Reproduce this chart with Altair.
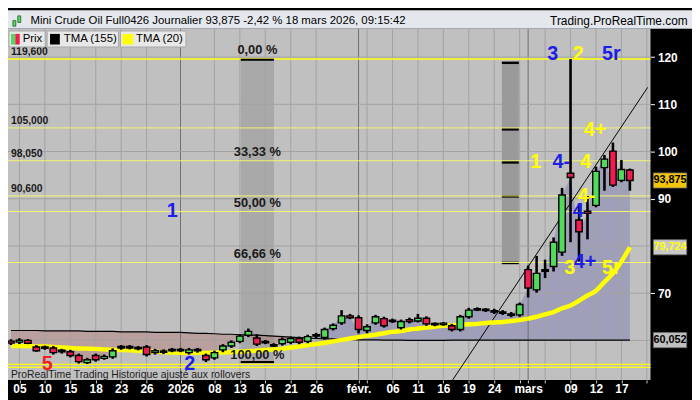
import altair as alt
import pandas as pd

FONT = "Liberation Sans"

# ---------------- data ----------------
opens  = [59.84,59.63,60.0,58.6,58.5,58.4,57.9,57.6,56.8,55.3,
          56.8,56.2,56.5,58.5,58.6,58.3,58.6,57.4,57.7,57.9,
          58.0,57.4,58.1,56.8,56.3,58.0,58.8,59.8,61.1,60.5,
          59.7,59.0,59.3,59.6,60.4,59.8,61.2,60.6,62.5,63.7,
          65.2,64.8,62.1,63.7,64.6,64.2,62.7,64.4,64.1,64.7,
          63.5,63.4,63.1,62.3,65.0,66.5,66.5,66.3,66.0,65.6,
          65.4,75.0,70.7,74.9,75.65,78.7,95.4,85.5,87.35,88.6,
          96.6,100.1,93.9,96.1]
highs  = [60.25,60.45,60.3,59.0,58.9,58.8,58.2,58.0,57.2,56.3,
          57.2,57.0,58.3,59.0,59.0,58.8,59.0,58.2,58.1,58.4,
          58.4,58.4,58.4,57.2,57.8,59.2,60.0,61.3,62.5,61.3,
          60.1,59.4,60.6,60.8,60.8,61.2,61.6,62.7,63.6,66.4,
          65.6,65.3,63.4,65.4,65.0,64.6,64.4,64.8,65.6,65.1,
          63.8,63.9,63.5,65.4,66.9,67.0,66.8,66.7,66.4,66.0,
          68.0,75.85,77.9,77.1,81.8,92.3,119.6,89.0,90.6,96.8,
          99.3,101.9,98.2,96.4]
lows   = [59.02,59.22,59.2,57.6,58.0,57.0,57.2,56.4,55.1,55.0,
          55.5,55.9,56.1,58.0,58.1,57.9,56.6,57.0,57.1,57.5,
          57.5,57.0,57.4,55.4,55.9,57.5,58.4,59.4,60.7,58.8,
          59.2,58.6,58.9,59.2,59.2,59.4,60.5,60.2,62.1,63.3,
          64.5,61.5,61.5,63.3,62.7,63.7,62.3,63.6,63.8,63.1,
          63.0,63.1,61.9,61.9,64.6,66.2,66.0,65.6,65.4,64.9,
          65.0,69.1,70.1,73.2,74.6,77.9,80.8,76.7,81.4,88.2,
          91.7,92.5,93.5,91.7]
closes = [59.43,60.04,59.4,57.8,58.45,57.4,57.6,56.8,55.5,55.9,
          55.9,56.6,57.8,58.6,58.5,58.4,57.0,57.8,57.5,58.0,
          57.9,58.0,57.8,55.9,57.4,58.8,59.6,60.9,61.9,59.2,
          59.6,58.9,60.2,60.4,59.6,60.8,60.9,62.3,63.2,65.2,
          64.8,62.3,62.9,65.0,63.1,64.1,64.0,64.0,64.7,63.5,
          63.4,63.6,62.3,65.0,66.4,66.6,66.4,66.0,65.8,65.3,
          67.6,71.1,74.2,74.7,80.8,90.8,94.5,83.0,86.9,95.8,
          98.4,92.9,96.2,93.875]
tma155 = [62.1,62.1,62.1,62.1,62.0,62.0,62.0,62.0,62.0,61.9,
          61.9,61.9,61.9,61.8,61.8,61.8,61.8,61.7,61.7,61.7,
          61.7,61.6,61.5,61.5,61.4,61.3,61.3,61.2,61.1,61.1,
          61.0,60.9,60.8,60.7,60.6,60.5,60.4,60.3,60.3,60.2,
          60.2,60.1,60.1,60.1,60.05,60.05,60.05,60.0,60.0,60.0,
          60.0,60.0,60.05,60.05,60.05,60.05,60.05,60.05,60.05,60.05,
          60.05,60.05,60.05,60.05,60.05,60.05,60.05,60.05,60.05,60.05,
          60.05,60.05,60.05,60.052]
tma20  = [58.8,58.8,58.8,58.7,58.7,58.6,58.5,58.4,58.3,58.25,
          58.2,58.1,58.0,57.95,57.9,57.8,57.7,57.6,57.5,57.45,
          57.4,57.35,57.35,57.35,57.4,57.45,57.55,57.6,57.7,57.8,
          57.95,58.1,58.2,58.5,58.7,59.0,59.2,59.5,59.8,60.1,
          60.4,60.7,61.0,61.2,61.5,61.8,62.0,62.3,62.5,62.7,
          62.9,63.1,63.2,63.3,63.4,63.5,63.7,63.8,63.9,64.1,
          64.3,64.6,65.0,65.5,66.0,66.8,67.4,68.4,69.5,70.5,
          72.4,74.2,76.7,79.724]
n = len(opens)
assert all(len(a) == n for a in [highs, lows, closes, tma155, tma20])

tick_idx = [1,4,7,10,13,16,20,24,27,30,33,36,41,42,45,48,51,54,57,60,61,63,66,69,72,75]
tick_lab = ['05','10','15','18','23','26','2026','08','13','16','21','26','févr.','','06','11',
            '16','19','24','','mars','','09','12','17','']
month_idx = [20, 41, 61]
y_axis_vals = [70, 90, 100, 110, 120]
grid_y = [60, 70, 80, 90, 100, 110, 120]

strong_levels = [119.6, 54.91, 54.29]
pale_levels = [105.0, 98.05, 90.6, 87.3, 76.5]
level_txt = ['119,600', '105,000', '98,050', '90,600']
level_txt_val = [119.6, 105.0, 98.05, 90.6]

fib_txt = ['0,00 %', '33,33 %', '50,00 %', '66,66 %', '100,00 %']
fib_val = [119.6, 98.05, 87.3, 76.5, 54.95]
fib_band_x = [27.1, 31.03]
fib_band_y = [54.95, 119.6]
fib_under_val = [119.45, 55.4]
box_x = [57.9, 59.9]
box_y = [76.4, 118.8]
box_ticks = [118.8, 104.7, 97.7, 90.5, 76.4]

wave_txt = ['5', '2', '1', '3', '2', '5r', '4+', '1', '4-', '4', '4-', '4', '3', '4+', '5r']
wave_i = [4.27, 21.1, 19.03, 63.9, 66.9, 70.8, 68.9, 61.9, 64.9, 67.8, 67.9, 66.9, 65.9, 67.7, 70.8]
wave_v = [54.9, 54.9, 87.35, 120.62, 120.62, 120.62, 104.6, 97.82, 97.82, 97.82, 90.64, 87.35, 75.24, 76.67, 75.24]
RED, BLUE, YEL = '#ee2222', '#1e1ee8', '#ffff00'
wave_col = [RED, BLUE, BLUE, BLUE, YEL, BLUE, YEL, YEL, BLUE, YEL, YEL, BLUE, YEL, BLUE, YEL]

trend_i = [52.1, 75.1]
trend_v = [51.62, 113.6]

price_vals = [93.875, 79.724, 60.052]
price_txt = ['93,875', '79,724', '60,052']
price_bg = ['#f2c40c', '#c8c8c8', '#c0c0c0']
price_fg = ['#000000', '#ffff00', '#000000']

# ---------------- layout ----------------
W, H = 650, 355
sx, sy = W / 657.0, H / 362.0
def PX(X): return X * sx
def PY(Y): return (Y - 20) * sy if Y >= 20 else (Y - 20) * 0.95

XS = alt.Scale(domain=[-0.346, 75.43], nice=False, zero=False)
YS = alt.Scale(domain=[51.62, 125.95], nice=False, zero=False)

expr = "''"
for v, lab in reversed(list(zip(tick_idx, tick_lab))):
    expr = f"datum.value == {v} ? '{lab}' : ({expr})"

x_axis = alt.Axis(orient='bottom', values=tick_idx, labelExpr=expr, labelColor='white',
                  labelFont=FONT, labelFontSize=12, labelFontWeight='bold', tickColor='#cccccc',
                  tickSize=3, labelPadding=1, domain=False, grid=False, labelOverlap=False,
                  labelFlush=False, labelBound=False, title=None, zindex=1)
y_axis = alt.Axis(orient='right', values=y_axis_vals, labelColor='white', labelFont=FONT,
                  labelFontSize=12, labelFontWeight='bold', tickColor='white', tickSize=4,
                  domain=False, grid=False, labelPadding=3, title=None, format='d', zindex=1)

def X(f): return alt.X(f, scale=XS, axis=x_axis)
def Y(f): return alt.Y(f, scale=YS, axis=y_axis)

df = pd.DataFrame({'i': list(range(n)), 'o': opens, 'h': highs, 'l': lows, 'c': closes,
                   't155': tma155, 't20': tma20})
mid = (df['o'] + df['c']) / 2
half = ((df['o'] - df['c']).abs() / 2).clip(lower=0.15)
df['top'] = mid + half
df['bot'] = mid - half
df['col'] = ['#50dc5a' if c >= o else '#f01e50' for o, c in zip(opens, closes)]
df['x1'] = df['i'] - 0.38
df['x2'] = df['i'] + 0.38
df['pink'] = df[['c', 't155']].min(axis=1)
df['blue'] = df[['c', 't155']].max(axis=1)

dummy = pd.DataFrame({'a': [0]})
def prect(x1, y1, x2, y2, fill, stroke=None, sw=0):
    kw = dict(fill=fill)
    if stroke:
        kw.update(stroke=stroke, strokeWidth=sw)
    else:
        kw.update(strokeWidth=0)
    return alt.Chart(dummy).mark_rect(**kw).encode(x=alt.value(x1), x2=alt.value(x2),
                                                    y=alt.value(y1), y2=alt.value(y2))
def ptext(x, y, s, size=12, weight='normal', color='#000000', align='left', baseline='middle'):
    return alt.Chart(dummy).mark_text(text=s, font=FONT, fontSize=size, fontWeight=weight, color=color,
                                      align=align, baseline=baseline).encode(x=alt.value(x), y=alt.value(y))

layers = []
# plot background
layers.append(prect(0, 0, W, H, '#c0c0c0'))
# fib band
layers.append(alt.Chart(pd.DataFrame({'x1': [fib_band_x[0]], 'x2': [fib_band_x[1]],
                                      'y1': [fib_band_y[0]], 'y2': [fib_band_y[1]]}))
              .mark_rect(color='#a9a9a9').encode(x=X('x1:Q'), x2='x2:Q', y=Y('y1:Q'), y2='y2:Q'))
# fills
layers.append(alt.Chart(df).mark_area(color='#b06a6a', opacity=0.38)
              .encode(x=X('i:Q'), y=Y('pink:Q'), y2='t155:Q'))
layers.append(alt.Chart(df).mark_area(color='#6a6ab0', opacity=0.38)
              .encode(x=X('i:Q'), y=Y('blue:Q'), y2='t155:Q'))
# grid
layers.append(alt.Chart(pd.DataFrame({'i': tick_idx,
                                      'col': ['#6e6e6e' if t in month_idx else '#a2a2a2' for t in tick_idx]}))
              .mark_rule(strokeWidth=1).encode(x=X('i:Q'), color=alt.Color('col:N', scale=None)))
layers.append(alt.Chart(pd.DataFrame({'v': grid_y})).mark_rule(color='#a2a2a2', strokeWidth=1)
              .encode(y=Y('v:Q')))
# right fib box
layers.append(alt.Chart(pd.DataFrame({'x1': [box_x[0]], 'x2': [box_x[1]], 'y1': [box_y[0]], 'y2': [box_y[1]]}))
              .mark_rect(color='#9a9a9a').encode(x=X('x1:Q'), x2='x2:Q', y=Y('y1:Q'), y2='y2:Q'))
layers.append(alt.Chart(pd.DataFrame({'v': box_ticks, 'x1': box_x[0], 'x2': box_x[1]}))
              .mark_rule(color='black', strokeWidth=2.5).encode(x=X('x1:Q'), x2='x2:Q', y=Y('v:Q')))
# level lines
layers.append(alt.Chart(pd.DataFrame({'v': pale_levels})).mark_rule(color='#f4f470', strokeWidth=1)
              .encode(y=Y('v:Q')))
layers.append(alt.Chart(pd.DataFrame({'v': strong_levels})).mark_rule(color='#ffff10', strokeWidth=1.4)
              .encode(y=Y('v:Q')))
# trend line
layers.append(alt.Chart(pd.DataFrame({'i': trend_i, 'v': trend_v})).mark_line(color='black', strokeWidth=1)
              .encode(x=X('i:Q'), y=Y('v:Q')))
# moving averages
layers.append(alt.Chart(df).mark_line(color='black', strokeWidth=1.2).encode(x=X('i:Q'), y=Y('t155:Q')))
layers.append(alt.Chart(df).mark_line(color='#ffff00', strokeWidth=4.5, interpolate='monotone')
              .encode(x=X('i:Q'), y=Y('t20:Q')))
# candles
layers.append(alt.Chart(df).mark_rule(color='black', strokeWidth=2.6)
              .encode(x=X('i:Q'), y=Y('l:Q'), y2='h:Q'))
layers.append(alt.Chart(df).mark_rect(stroke='black', strokeWidth=1.4)
              .encode(x=X('x1:Q'), x2='x2:Q', y=Y('top:Q'), y2='bot:Q', color=alt.Color('col:N', scale=None)))
# fib texts
fib_mid = (fib_band_x[0] + fib_band_x[1]) / 2
layers.append(alt.Chart(pd.DataFrame({'v': fib_under_val, 'x1': fib_band_x[0], 'x2': fib_band_x[1]}))
              .mark_rule(color='black', strokeWidth=2).encode(x=X('x1:Q'), x2='x2:Q', y=Y('v:Q')))
layers.append(alt.Chart(pd.DataFrame({'t': fib_txt, 'v': fib_val, 'i': fib_mid}))
              .mark_text(font=FONT, fontSize=13, fontWeight='bold', color='#1a1a1a', baseline='bottom',
                         dy=-2, align='center')
              .encode(x=X('i:Q'), y=Y('v:Q'), text='t:N'))
# left level labels
layers.append(alt.Chart(pd.DataFrame({'t': level_txt, 'v': level_txt_val}))
              .mark_text(font=FONT, fontSize=10.5, fontWeight='bold', color='#1a1a1a', baseline='bottom',
                         dy=-2, align='left')
              .encode(x=alt.value(PX(3)), y=Y('v:Q'), text='t:N'))
# wave labels
layers.append(alt.Chart(pd.DataFrame({'t': wave_txt, 'i': wave_i, 'v': wave_v, 'col': wave_col}))
              .mark_text(font=FONT, fontSize=20, fontWeight='bold', baseline='middle', align='center')
              .encode(x=X('i:Q'), y=Y('v:Q'), text='t:N', color=alt.Color('col:N', scale=None)))

# ---------------- pixel decorations ----------------
layers.append(ptext(PX(3), PY(377), 'ProRealTime Trading  Historique ajusté aux rollovers', 10.5, color='#1e1e1e'))
# legend
layers.append(prect(PX(1), PY(22), PX(38), PY(38.5), '#e8e8e8', '#a8a8a8', 1))
layers.append(prect(PX(3), PY(25), PX(7.5), PY(36), '#50dc5a'))
layers.append(prect(PX(7.5), PY(25), PX(12), PY(36), '#f01e50'))
layers.append(ptext(PX(15), PY(30.5), 'Prix', 11.5))
layers.append(prect(PX(40), PY(22), PX(113), PY(38.5), '#e8e8e8', '#a8a8a8', 1))
layers.append(prect(PX(43), PY(25), PX(53), PY(36), '#000000'))
layers.append(ptext(PX(57), PY(30.5), 'TMA (155)', 11.5))
layers.append(prect(PX(115), PY(22), PX(182), PY(38.5), '#e8e8e8', '#a8a8a8', 1))
layers.append(prect(PX(117), PY(25), PX(128), PY(36), '#ffff00'))
layers.append(ptext(PX(131), PY(30.5), 'TMA (20)', 11.5))
# title bar
layers.append(prect(0, -19, W + 42, 0, '#e4e8ed'))
layers.append(prect(0, -1, W + 42, 0, '#a0a8b0'))
layers.append(prect(PX(5), PY(11), PX(8), PY(17), '#50dc5a', '#2a5a2a', 0.8))
layers.append(prect(PX(10), PY(6), PX(13), PY(13), '#50dc5a', '#2a5a2a', 0.8))
layers.append(ptext(PX(23), PY(11), 'Mini Crude Oil Full0426 Journalier 93,875 -2,42 % 18 mars 2026, 09:15:42', 11.5))
layers.append(ptext(PX(695), PY(11), 'Trading.ProRealTime.com', 12, align='right'))
# price boxes on the right axis
pdf = pd.DataFrame({'v': price_vals, 't': price_txt, 'bg': price_bg, 'fg': price_fg})
pdf['vt'] = pdf['v'] + 1.6
pdf['vb'] = pdf['v'] - 1.6
layers.append(alt.Chart(pdf).mark_rect(stroke='#707070', strokeWidth=0.8)
              .encode(x=alt.value(W + PX(3)), x2=alt.value(W + PX(37)), y=Y('vt:Q'), y2='vb:Q',
                      color=alt.Color('bg:N', scale=None)))
layers.append(alt.Chart(pdf).mark_text(font=FONT, fontSize=11, fontWeight='bold', align='center', baseline='middle')
              .encode(x=alt.value(W + PX(20)), y=Y('v:Q'), text='t:N', color=alt.Color('fg:N', scale=None)))

chart = alt.layer(*layers).properties(
    width=W, height=H,
    padding={'left': 0, 'top': 19, 'right': 42, 'bottom': 18},
    autosize=alt.AutoSizeParams(type='none'),
    background='#000000',
).configure_view(stroke=None)

chart.save("out.html", embed_options={"renderer": "svg", "actions": False})
